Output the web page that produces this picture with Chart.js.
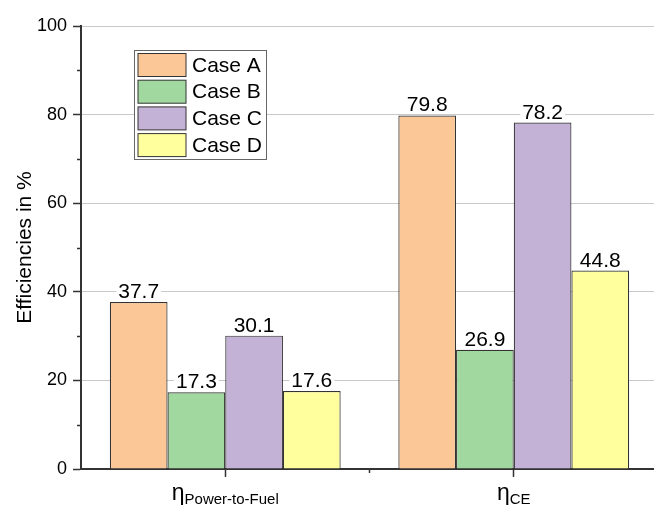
<!DOCTYPE html>
<html>
<head>
<meta charset="utf-8">
<script src="https://cdn.jsdelivr.net/npm/chart.js@4"></script>
<style>
  html, body { margin: 0; padding: 0; overflow: hidden; background: #fff; }
  #wrap { width: 658px; height: 512px; }
</style>
</head>
<body>
<div id="wrap"><canvas id="effChart"></canvas></div>
<script>
// data
const categories = ['Power-to-Fuel', 'CE'];
const caseLabels = ['Case A', 'Case B', 'Case C', 'Case D'];
const caseA = [37.7, 79.8];
const caseB = [17.3, 26.9];
const caseC = [30.1, 78.2];
const caseD = [17.6, 44.8];
const yTicks = [0, 20, 40, 60, 80, 100];
const yMinorTicks = [10, 30, 50, 70, 90];

const colors = ['#fbc797', '#a0d89f', '#c3b1d6', '#ffff9e'];
const FONT = '"Liberation Sans", Arial, sans-serif';
const DARK = '#333333';

const overlay = {
    id: 'overlay',
    afterDatasetsDraw(chart) {
        const ctx = chart.ctx;
        const xs = chart.scales.x;
        const ys = chart.scales.y;
        const area = chart.chartArea;
        ctx.save();

        // value labels with white background
        ctx.font = '21px ' + FONT;
        ctx.textAlign = 'center';
        ctx.textBaseline = 'alphabetic';
        chart.data.datasets.forEach((ds, i) => {
            chart.getDatasetMeta(i).data.forEach((bar, j) => {
                const txt = ds.data[j].toFixed(1);
                const w = ctx.measureText(txt).width;
                ctx.fillStyle = '#ffffff';
                ctx.fillRect(bar.x - w / 2 - 2, bar.y - 22, w + 4, 20);
                ctx.fillStyle = '#000';
                ctx.fillText(txt, bar.x, bar.y - 4);
            });
        });

        // minor ticks
        ctx.strokeStyle = DARK;
        ctx.lineWidth = 1.5;
        yMinorTicks.forEach(v => {
            const y = Math.round(ys.getPixelForValue(v)) + 0.5;
            ctx.beginPath();
            ctx.moveTo(area.left - 4, y);
            ctx.lineTo(area.left, y);
            ctx.stroke();
        });
        const xb = (xs.getPixelForValue(0) + xs.getPixelForValue(1)) / 2;
        ctx.beginPath();
        ctx.moveTo(xb, area.bottom);
        ctx.lineTo(xb, area.bottom + 4);
        ctx.stroke();

        // x category labels: eta with subscript
        categories.forEach((c, j) => {
            const cx = xs.getPixelForValue(j);
            ctx.font = '23px ' + FONT;
            const wEta = ctx.measureText('\u03b7').width;
            ctx.font = '15px ' + FONT;
            const wSub = ctx.measureText(c).width;
            const x0 = cx - (wEta + wSub) / 2;
            ctx.fillStyle = '#000';
            ctx.textAlign = 'left';
            ctx.font = '23px ' + FONT;
            ctx.fillText('\u03b7', x0, 500);
            ctx.font = '15px ' + FONT;
            ctx.fillText(c, x0 + wEta, 504);
        });

        // y axis title
        ctx.save();
        ctx.translate(25, (area.top + area.bottom) / 2);
        ctx.rotate(-Math.PI / 2);
        ctx.font = '21px ' + FONT;
        ctx.textAlign = 'center';
        ctx.textBaseline = 'middle';
        ctx.fillText('Efficiencies in %', 0, 0);
        ctx.restore();

        // legend box
        const lx = 134.5, ly = 50.5, lw = 132, lh = 109;
        ctx.fillStyle = '#ffffff';
        ctx.fillRect(lx, ly, lw, lh);
        ctx.strokeStyle = '#666';
        ctx.lineWidth = 1;
        ctx.strokeRect(lx, ly, lw, lh);
        ctx.font = '21px ' + FONT;
        ctx.textAlign = 'left';
        ctx.textBaseline = 'middle';
        caseLabels.forEach((lab, i) => {
            const sy = 53.5 + i * 26.7;
            ctx.fillStyle = colors[i];
            ctx.fillRect(138, sy, 48, 23);
            ctx.strokeStyle = DARK;
            ctx.strokeRect(138, sy, 48, 23);
            ctx.fillStyle = '#000';
            ctx.fillText(lab, 192, sy + 12.5);
        });
        ctx.restore();
    }
};

const datasets = [caseA, caseB, caseC, caseD].map((vals, i) => ({
    label: caseLabels[i],
    data: vals,
    backgroundColor: colors[i],
    borderColor: DARK,
    borderWidth: 1.2,
    categoryPercentage: 0.8,
    barPercentage: 1.0
}));

new Chart(document.getElementById('effChart').getContext('2d'), {
    type: 'bar',
    data: { labels: categories, datasets: datasets },
    options: {
        responsive: true,
        maintainAspectRatio: false,
        animation: false,
        layout: { padding: { top: 26, right: 0, left: 0, bottom: 0 } },
        plugins: { legend: { display: false }, tooltip: { enabled: false } },
        scales: {
            x: {
                grid: { offset: false, drawOnChartArea: false, tickLength: 8, tickColor: DARK, tickWidth: 1.5 },
                border: { color: DARK, width: 2 },
                ticks: { display: false },
                afterFit(scale) { scale.height = 43; }
            },
            y: {
                min: 0,
                max: 100,
                afterBuildTicks(scale) { scale.ticks = yTicks.map(v => ({ value: v })); },
                grid: { color: '#c8c8c8', lineWidth: 1, tickLength: 8, tickColor: DARK, tickWidth: 1.5 },
                border: { color: DARK, width: 2 },
                ticks: { color: '#000', font: { family: FONT, size: 18 }, padding: 6 },
                afterFit(scale) { scale.width = 81; }
            }
        }
    },
    plugins: [overlay]
});
</script>
</body>
</html>
